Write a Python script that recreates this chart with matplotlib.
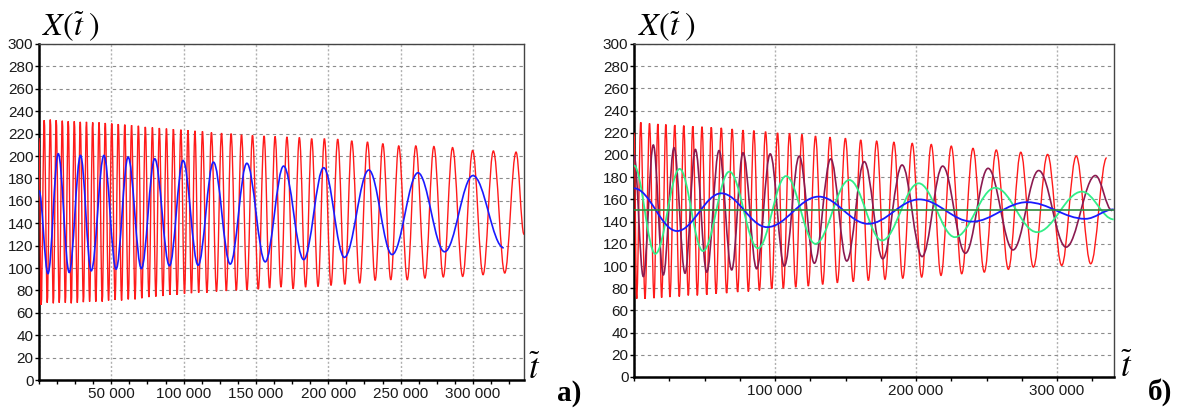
import numpy as np
import matplotlib.pyplot as plt
from matplotlib.path import Path
from matplotlib.patches import PathPatch
from matplotlib.ticker import MultipleLocator, FuncFormatter

plt.rcParams['mathtext.fontset'] = 'stix'
plt.rcParams['font.family'] = 'Liberation Sans'

# turning points (start, troughs/peaks alternating, end); time in thousands
# panel a) fast (red) and slow (blue) oscillations
a_red_t = [0, 1.5, 3.6, 5.7, 7.8, 9.9, 11.9, 14.0, 16.1, 18.2, 20.2, 22.3, 24.4, 26.5, 28.5,
           30.7, 32.8, 35.0, 37.1, 39.3, 41.5, 43.7, 45.8, 48.1, 50.3, 52.6, 54.8, 57.1, 59.3,
           61.7, 64.0, 66.4, 68.7, 71.1, 73.5, 76.0, 78.4, 80.8, 83.2, 85.7, 88.1, 90.5, 92.9,
           95.5, 98.1, 100.6, 103.0, 105.4, 107.8, 110.4, 113.0, 116.1, 119.2, 122.7, 126.2,
           129.5, 132.8, 136.4, 140.0, 143.8, 147.6, 151.6, 155.6, 159.4, 163.2, 167.3, 171.4,
           175.7, 180.0, 184.3, 188.5, 192.9, 197.3, 201.9, 206.5, 211.4, 216.2, 221.7, 227.1,
           232.4, 237.7, 243.2, 248.7, 254.6, 260.5, 266.8, 273.0, 279.5, 285.9, 292.9, 299.8,
           307.0, 314.1, 322.0, 329.8, 335.3]
a_red_x = [216, 67, 232, 69, 232.5, 68.5, 232, 69, 231.5, 69, 231, 68.5, 231, 69, 230.5,
           69.5, 230.5, 70, 230, 70, 230, 70, 229.5, 71, 229, 71.5, 228.5, 71, 228,
           72, 227.5, 72, 227, 73, 226, 74, 225.5, 74.5, 225, 75, 224.5, 76, 224,
           76, 223.5, 77, 223, 77.5, 222.5, 78, 222, 78, 221, 79, 220.5,
           79.5, 220, 80, 219, 80.5, 218.5, 81, 218, 82, 217.5, 83, 217,
           81.5, 216.5, 83, 215.5, 83.5, 215.5, 84.5, 215, 85.5, 213.5, 86.5, 212.5,
           89, 211, 89.5, 209, 89.5, 209, 91, 208.5, 92, 207.5, 92.5, 205,
           94, 204.5, 95.5, 203.5, 130]

a_blue_t = [0, 6.2, 13.3, 20.9, 28.7, 36.1, 44.9, 53.3, 61.6, 70.8, 80.0, 90.2, 99.6, 110.0,
            120.6, 132.2, 143.7, 156.4, 169.1, 183.0, 196.8, 211.1, 228.0, 244.1, 262.0,
            280.4, 300.0, 321.3]
a_blue_x = [169, 95, 202, 96, 200.5, 97.5, 200.5, 99, 199, 99.5, 197.5, 102, 196, 102.5,
            194.5, 103.5, 193.5, 105.5, 191, 107.5, 189.5, 109.5, 187.5, 112, 185,
            114.5, 182.5, 118]

# panel б)
b_red_t = [0, 1.9, 4.8, 7.8, 11.0, 14.2, 16.9, 19.6, 22.6, 25.5, 28.9, 32.1, 35.3, 38.5,
           41.7, 44.9, 48.2, 51.6, 54.8, 58.2, 61.9, 65.7, 69.6, 73.5, 77.3, 81.1, 85.0,
           88.9, 93.3, 97.7, 101.8, 105.9, 110.3, 114.7, 119.1, 123.6, 128.7, 133.8, 139.0,
           144.2, 149.9, 155.5, 160.8, 166.2, 172.1, 178.0, 184.3, 190.6, 197.3, 204.0,
           210.8, 217.7, 225.0, 232.4, 240.4, 248.4, 256.9, 265.5, 274.3, 283.2, 293.3,
           303.3, 313.6, 323.9, 335.2]
b_red_x = [220, 70.5, 229.5, 70.5, 228.5, 71, 228, 71.5, 227.5, 72, 227, 72.5, 226.5, 73.5,
           226, 73.5, 225.5, 74, 225, 75, 224.5, 75.5, 223.5, 76.5, 222.5, 77, 222,
           78, 221, 79.5, 220, 80, 219.5, 81, 218.5, 82, 217, 83.5, 216,
           85, 215, 86, 213.5, 87, 212.5, 88, 211.5, 89, 210.5, 90,
           209.5, 91.5, 208, 93, 206, 94.5, 204.5, 97, 202.5, 99, 200.5,
           100.5, 199, 102, 197.5]

b_purple_t = [0, 6.6, 13.7, 20.8, 28.4, 36.2, 43.5, 51.6, 60.3, 69.3, 77.3, 87.0, 96.6, 106.6,
              117.2, 127.9, 139.5, 150.9, 163.3, 176.4, 190.1, 204.3, 218.9, 235.0, 251.1,
              268.8, 287.0, 306.4, 327.2, 339.0]
b_purple_x = [200, 90.5, 209, 92, 206.5, 93.5, 205, 94.5, 204, 96.5, 202, 97.5, 201, 100,
              199, 102.5, 196.5, 104.5, 194, 106.5, 191, 108.5, 190, 111.5, 188,
              114.5, 186, 117, 181.5, 150]

b_green_t = [0, 15.1, 32.4, 48.9, 67.6, 87.9, 107.8, 128.6, 152.7, 175.9, 201.9, 227.6,
             256.2, 285.8, 317.7, 340.2]
b_green_x = [190.5, 111, 187.5, 113.5, 185, 116, 181, 120, 177.5, 123, 174.5, 126,
             170.5, 130.5, 167, 142]

b_blue_t = [0, 30.5, 61.9, 94.3, 131.0, 166.0, 202.3, 239.7, 278.7, 320.1, 340.2]
b_blue_x = [170, 131.5, 165.5, 135, 162.5, 138, 160, 140, 157.5, 142.5, 151]

b_level = 150


def curve(ax, t, x, color, lw, z):
    # smooth curve through the turning points, flat at each extremum
    t = np.asarray(t) * 1000
    verts = [(t[0], x[0])]
    codes = [Path.MOVETO]
    for i in range(1, len(t)):
        d = (t[i] - t[i - 1]) * 0.3634
        verts += [(t[i - 1] + d, x[i - 1]), (t[i] - d, x[i]), (t[i], x[i])]
        codes += [Path.CURVE4] * 3
    ax.add_patch(PathPatch(Path(verts, codes), fill=False, edgecolor=color,
                           lw=lw, zorder=z))


def thousands(v, pos):
    if v <= 0:
        return ''
    return f'{int(v):,}'.replace(',', ' ')


def style(ax, xmax, major, minor):
    ax.set_xlim(0, xmax)
    ax.set_ylim(0, 300)
    ax.xaxis.set_major_locator(MultipleLocator(major))
    ax.xaxis.set_minor_locator(MultipleLocator(minor))
    ax.yaxis.set_major_locator(MultipleLocator(20))
    ax.xaxis.set_major_formatter(FuncFormatter(thousands))
    ax.grid(axis='y', color='#8c8c8c', ls=(0, (3, 3)), lw=0.8)
    ax.grid(axis='x', color='#b0b0b0', ls=(0, (1.5, 1.5)), lw=1.0)
    ax.set_axisbelow(True)
    for s in ['left', 'bottom']:
        ax.spines[s].set_linewidth(1.8)
        ax.spines[s].set_color('black')
    for s in ['top', 'right']:
        ax.spines[s].set_linewidth(1.0)
        ax.spines[s].set_color('#444444')
    ax.tick_params(axis='x', direction='out', length=3, width=1, labelsize=11, pad=2,
                   labelcolor='#1a1a1a')
    ax.tick_params(axis='y', direction='out', length=3, width=1, labelsize=11, pad=1,
                   labelcolor='#1a1a1a')
    ax.tick_params(which='minor', direction='out', length=3, width=1)


fig = plt.figure(figsize=(11.87, 4.12), dpi=100)
ax1 = fig.add_axes([39 / 1187, 32 / 412, 485 / 1187, 336 / 412])
ax2 = fig.add_axes([634 / 1187, 35 / 412, 480 / 1187, 333 / 412])

curve(ax1, a_red_t, a_red_x, '#ff1a1a', 1.0, 3)
curve(ax1, a_blue_t, a_blue_x, '#1a1aff', 1.2, 4)
style(ax1, 335300, 50000, 12500)

curve(ax2, b_red_t, b_red_x, '#ff1a1a', 1.0, 3)
curve(ax2, b_purple_t, b_purple_x, '#8b1a50', 1.2, 4)
curve(ax2, b_green_t, b_green_x, '#33ee88', 1.3, 5)
curve(ax2, b_blue_t, b_blue_x, '#1a1aff', 1.3, 6)
ax2.axhline(b_level, color='#2e8b3e', lw=1.2, zorder=7)
style(ax2, 340400, 100000, 25000)

W, H = 1187, 412
for x0 in [42, 638]:
    fig.text(x0 / W, 1 - 36 / H, r'$X(\widetilde{t}\;)$', fontsize=23, ha='left', va='baseline')
for x0, y0 in [(528, 379), (1120, 377)]:
    fig.text(x0 / W, 1 - y0 / H, r'$\widetilde{t}$', fontsize=25, ha='left', va='baseline')
fig.text(557 / W, 1 - 401 / H, 'а)', family='Liberation Serif', weight='bold', fontsize=21,
         ha='left', va='baseline')
fig.text(1148 / W, 1 - 400 / H, 'б)', family='Liberation Serif', weight='bold', fontsize=21,
         ha='left', va='baseline')

fig.savefig('out.png', dpi=100)
